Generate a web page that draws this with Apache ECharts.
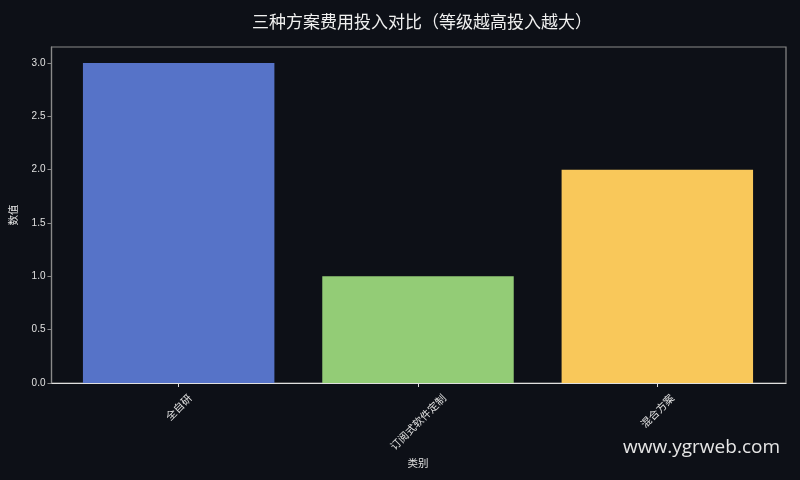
<!DOCTYPE html>
<html>
<head>
<meta charset="utf-8">
<script src="https://cdn.jsdelivr.net/npm/echarts@6/dist/echarts.min.js"></script>
<style>
  html, body { margin: 0; padding: 0; background: #0d1017; }
  #main { width: 800px; height: 480px; }
</style>
</head>
<body>
<div id="main"></div>
<script>
const categories = ['全自研', '订阅式软件定制', '混合方案'];
const values = [3, 1, 2];
const barColors = ['#5673c8', '#93cc76', '#f9c85a'];
const yTicks = [0, 0.5, 1, 1.5, 2, 2.5, 3];

const myChart = echarts.init(document.getElementById('main'));
const font = '"Noto Sans CJK SC", "DejaVu Sans", sans-serif';
const labelSize = 10.5;

myChart.setOption({
    backgroundColor: '#0d1017',
    animation: false,
    title: {
        text: '三种方案费用投入对比（等级越高投入越大）',
        left: 417,
        textAlign: 'center',
        top: 8,
        textStyle: { color: '#f0f0f0', fontSize: 17, fontWeight: 'normal', fontFamily: font }
    },
    grid: [
        // outer frame like the matplotlib axes box
        { left: 49, right: 14, top: 47, bottom: 97, show: true, borderColor: '#8a8a8a', borderWidth: 1.2 },
        // bars sit a bit inside the frame
        { left: 59, right: 23, top: 47, bottom: 97 }
    ],
    xAxis: [
        {
            gridIndex: 0, type: 'value', min: 0, max: 1,
            axisLine: { show: true, lineStyle: { color: '#e0e0e0', width: 1.2 } },
            axisTick: { show: false }, axisLabel: { show: false }, splitLine: { show: false }
        },
        {
            gridIndex: 1, type: 'category', data: categories,
            name: '类别', nameLocation: 'middle', nameGap: 75,
            nameTextStyle: { color: '#e0e0e0', fontSize: 10.5, fontFamily: font },
            axisLine: { show: false },
            axisTick: { show: true, alignWithLabel: true, length: 4, lineStyle: { color: '#e0e0e0' } },
            axisLabel: { show: false },
            splitLine: { show: false }
        }
    ],
    yAxis: [
        {
            gridIndex: 0, type: 'value', min: 0, max: 3.15, interval: 0.5,
            name: '数值', nameLocation: 'middle', nameGap: 33,
            nameTextStyle: { color: '#e0e0e0', fontSize: 10.5, fontFamily: font },
            axisLine: { show: true, lineStyle: { color: '#8a8a8a', width: 1.2 } },
            axisTick: { show: true, length: 4, lineStyle: { color: '#8a8a8a' } },
            axisLabel: {
                color: '#e0e0e0', fontSize: 10, margin: 6, fontFamily: 'Liberation Sans, sans-serif',
                showMaxLabel: false,
                formatter: v => yTicks.includes(v) ? v.toFixed(1) : ''
            },
            splitLine: { show: false }
        },
        { gridIndex: 1, type: 'value', min: 0, max: 3.15, show: false }
    ],
    series: [
        {
            type: 'bar',
            xAxisIndex: 1, yAxisIndex: 1,
            barWidth: '80%',
            data: values.map((v, i) => ({ value: v, itemStyle: { color: barColors[i] } }))
        }
    ]
});

// rotated tick labels, centred under each tick (matplotlib style)
const ctx = document.createElement('canvas').getContext('2d');
ctx.font = labelSize + 'px ' + font;
const axisY = myChart.convertToPixel({ yAxisIndex: 1 }, 0);
const labelGraphics = categories.map(c => {
    const px = myChart.convertToPixel({ xAxisIndex: 1 }, c);
    const w = ctx.measureText(c).width;
    const box = (w + labelSize * 1.1) * Math.SQRT1_2;
    return {
        type: 'text', x: px, y: axisY + 9 + box / 2, rotation: Math.PI / 4,
        style: { text: c, fill: '#e0e0e0', font: labelSize + 'px ' + font, align: 'center', verticalAlign: 'middle' }
    };
});

myChart.setOption({
    graphic: labelGraphics.concat([
        {
            type: 'text', right: 20, top: 438,
            style: { text: 'www.ygrweb.com', fill: '#e6e6e6', fontSize: 19, fontFamily: '"Open Sans", sans-serif' }
        }
    ])
});
</script>
</body>
</html>
